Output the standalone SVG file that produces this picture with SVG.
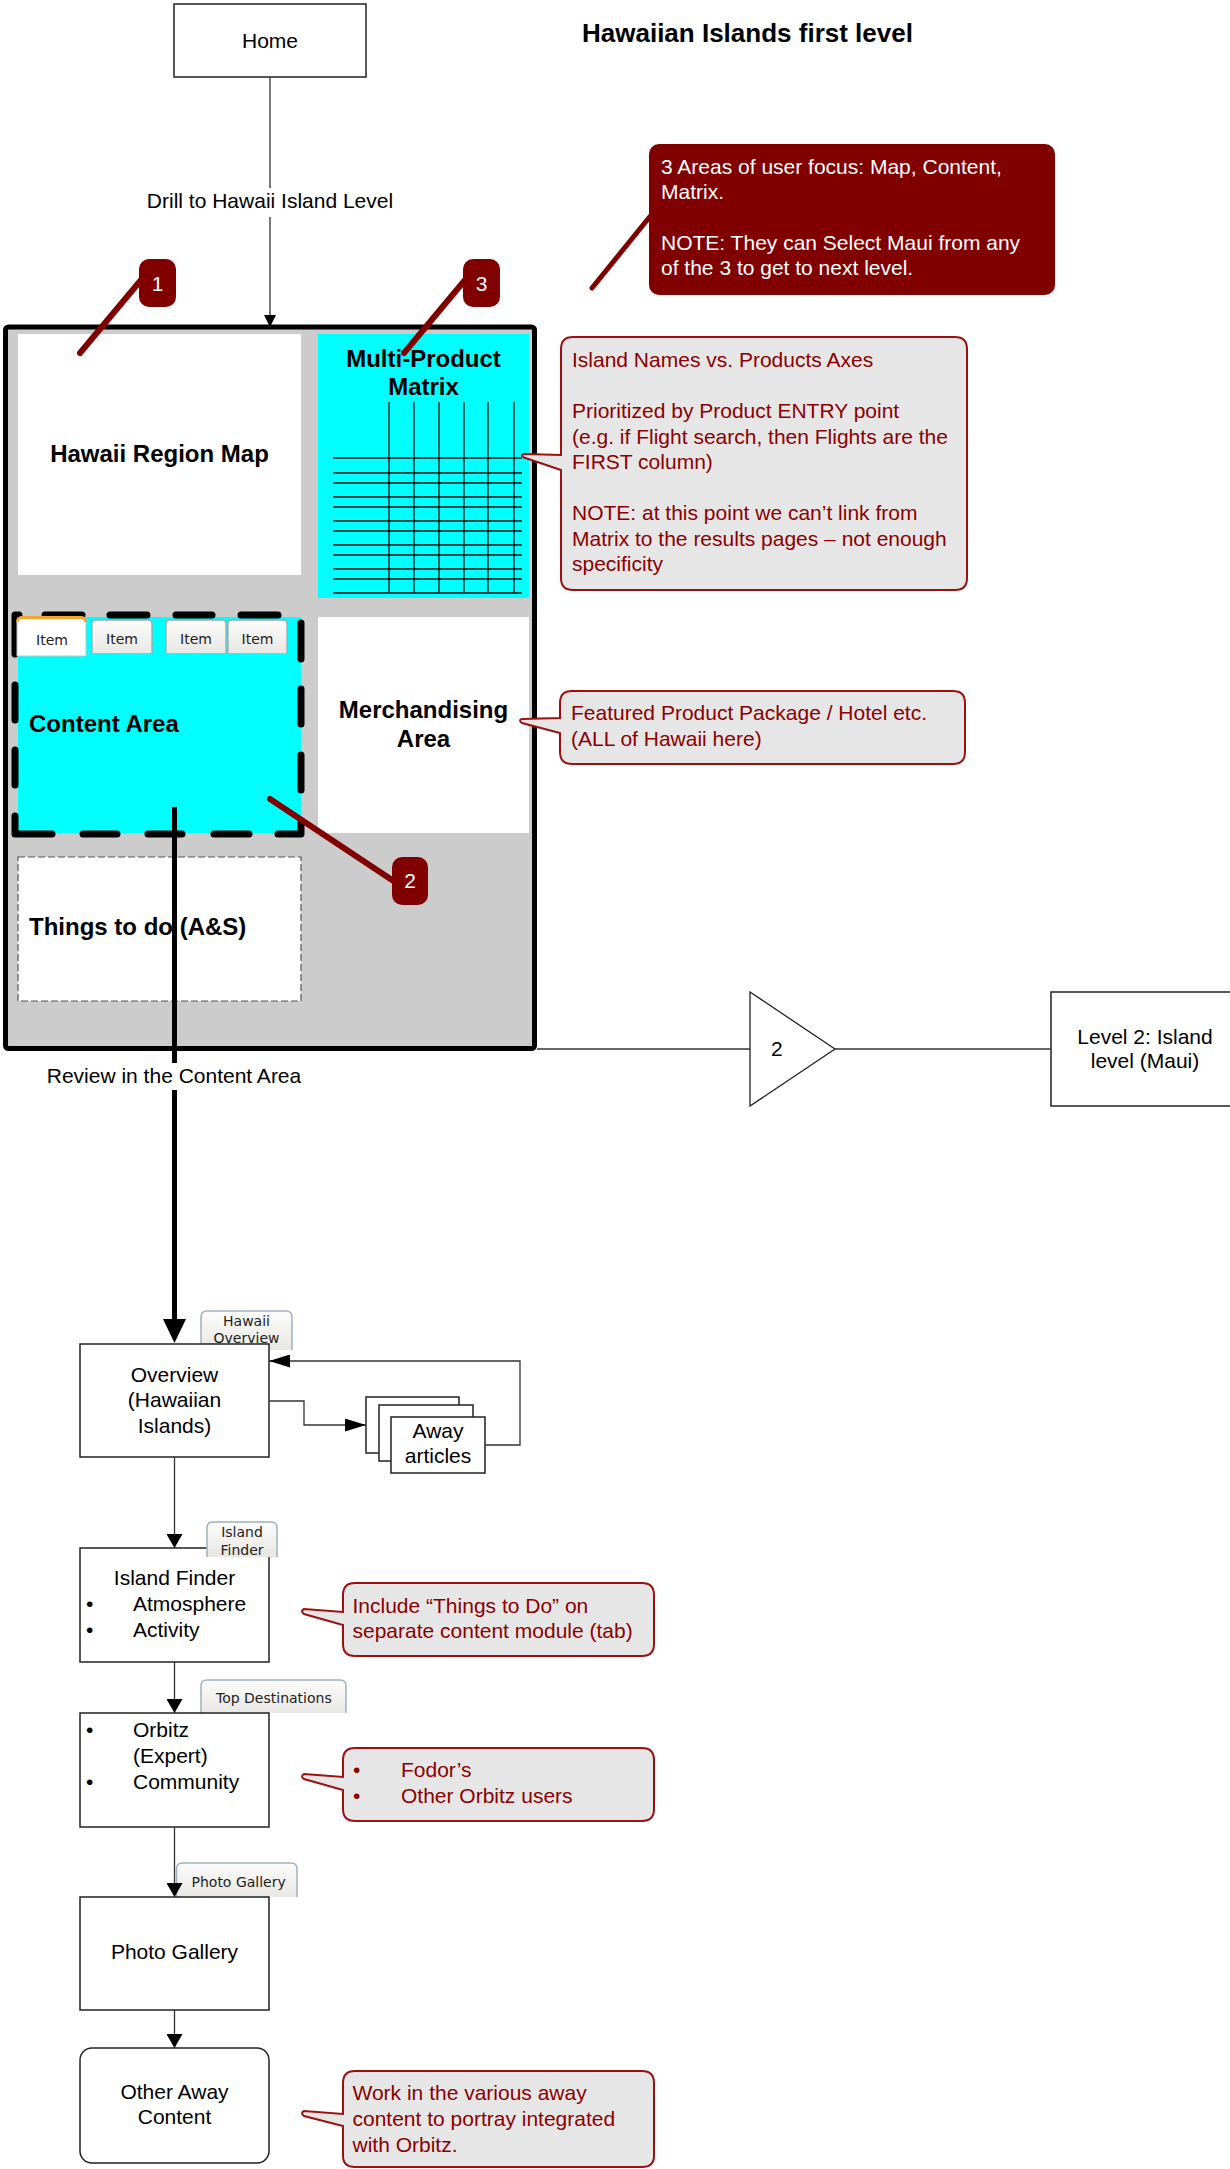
<svg xmlns="http://www.w3.org/2000/svg" width="1230" height="2169" viewBox="0 0 1230 2169">
<defs>
<style>
text{font-family:"Liberation Sans",Arial,sans-serif;}
.t{font-size:21px;fill:#000;}
.c{text-anchor:middle;}
.b{font-size:24px;font-weight:bold;fill:#000;}
.note{font-size:21px;fill:#8b0000;}
.wn{font-size:21px;fill:#fff;}
.box{fill:#fff;stroke:#222;stroke-width:1.5;}
.conn{fill:none;stroke:#333;stroke-width:1.3;}
.call{fill:#e6e6e6;stroke:#9b1111;stroke-width:2;}
.mk{fill:#800000;}
.ptr{stroke:#800000;stroke-width:6;stroke-linecap:round;fill:none;}
.tab{fill:url(#tg);stroke:#9fb1c4;stroke-width:1.5;}
.itab{fill:url(#tg);stroke:#a0a8b0;stroke-width:1.3;}
.tabt{font-family:"DejaVu Sans",sans-serif;font-size:14px;fill:#222;}
.gh{stroke:#1e4a4a;stroke-width:2;}
.gv{stroke:#000;stroke-width:1.2;}
</style>
<linearGradient id="tg" x1="0" y1="0" x2="0" y2="1"><stop offset="0" stop-color="#fcfcfb"/><stop offset="1" stop-color="#e8e7e3"/></linearGradient>
<marker id="av" markerUnits="userSpaceOnUse" markerWidth="14" markerHeight="16" viewBox="0 0 14 16" refX="14" refY="8" orient="auto"><path d="M0,0 L14,8 L0,16 Z" fill="#000"/></marker>
<marker id="ah" markerUnits="userSpaceOnUse" markerWidth="21" markerHeight="13" viewBox="0 0 21 13" refX="21" refY="6.5" orient="auto"><path d="M0,0 L21,6.5 L0,13 Z" fill="#000"/></marker>
<marker id="as" markerUnits="userSpaceOnUse" markerWidth="12" markerHeight="12" viewBox="0 0 12 12" refX="12" refY="6" orient="auto"><path d="M0,0 L12,6 L0,12 Z" fill="#000"/></marker>
</defs>
<rect width="1230" height="2169" fill="#fff"/>

<text x="582" y="42" style="font-size:26px;font-weight:bold;fill:#000">Hawaiian Islands first level</text>

<g id="home"><rect class="box" x="174" y="4" width="192" height="73"/><text class="t c" x="270" y="48">Home</text></g>

<g id="focus-note">
<line class="ptr" x1="592" y1="288" x2="652" y2="214" style="stroke-width:5"/>
<rect x="649" y="144" width="406" height="151" rx="10" fill="#800000"/>
<text class="wn" x="661" y="174">3 Areas of user focus: Map, Content,</text>
<text class="wn" x="661" y="199">Matrix.</text>
<text class="wn" x="661" y="250">NOTE: They can Select Maui from any</text>
<text class="wn" x="661" y="275">of the 3 to get to next level.</text>
</g>

<g id="page-frame">
<rect x="5.5" y="327" width="529" height="721.5" rx="3" fill="#cccccc" stroke="#000" stroke-width="5"/>
</g>

<g id="region-map"><rect x="18" y="334" width="283" height="241" fill="#fff"/><text class="b c" x="159.5" y="462">Hawaii Region Map</text></g>

<g id="matrix">
<rect x="318" y="334" width="211" height="264" fill="#00ffff"/>
<text class="b c" x="423.5" y="367">Multi-Product</text>
<text class="b c" x="423.5" y="395">Matrix</text>
<g>
<line class="gh" x1="333" y1="458" x2="522" y2="458"/>
<line class="gh" x1="333" y1="473" x2="522" y2="473"/>
<line class="gh" x1="333" y1="483" x2="522" y2="483"/>
<line class="gh" x1="333" y1="497" x2="522" y2="497"/>
<line class="gh" x1="333" y1="507" x2="522" y2="507"/>
<line class="gh" x1="333" y1="521" x2="522" y2="521"/>
<line class="gh" x1="333" y1="531" x2="522" y2="531"/>
<line class="gh" x1="333" y1="545" x2="522" y2="545"/>
<line class="gh" x1="333" y1="555" x2="522" y2="555"/>
<line class="gh" x1="333" y1="569" x2="522" y2="569"/>
<line class="gh" x1="333" y1="579" x2="522" y2="579"/>
<line class="gh" x1="333" y1="593" x2="522" y2="593"/>
<line class="gv" x1="389" y1="402" x2="389" y2="593"/>
<line class="gv" x1="414" y1="402" x2="414" y2="593"/>
<line class="gv" x1="439" y1="402" x2="439" y2="593"/>
<line class="gv" x1="464" y1="402" x2="464" y2="593"/>
<line class="gv" x1="488" y1="402" x2="488" y2="593"/>
<line class="gv" x1="514" y1="402" x2="514" y2="593"/>
</g>
</g>

<g id="content-area">
<rect x="18" y="617" width="283" height="216" fill="#00ffff"/>
<path d="M45,615 H82 M110,615 H147 M176,615 H212 M241,615 H278 M301,623 V659 M301,689 V724 M301,755 V790 M301,823 V834 H278 M249,834 H214 M182,834 H148 M117,834 H83 M52,834 H15 V816 M15,785 V750 M15,720 V685 M15,654 V615 H19" fill="none" stroke="#000" stroke-width="7" stroke-linecap="round" stroke-linejoin="round"/>
<path d="M17,656 V621 Q17,617 21,617 H82 Q86,617 86,621 V656 Z" fill="#fff" stroke="#c4c4c4" stroke-width="1"/>
<path d="M17.5,622 Q17.5,617.5 22,617.5 H81 Q85.5,617.5 85.5,622" fill="none" stroke="#f0a832" stroke-width="3"/>
<path class="itab" d="M92,653 V624 Q92,620 96,620 H148 Q152,620 152,624 V653"/>
<path class="itab" d="M166,653 V624 Q166,620 170,620 H222 Q226,620 226,624 V653"/>
<path class="itab" d="M228,653 V624 Q228,620 232,620 H283 Q287,620 287,624 V653"/>
<text class="tabt c" x="52" y="645">Item</text>
<text class="tabt c" x="122" y="644">Item</text>
<text class="tabt c" x="196" y="644">Item</text>
<text class="tabt c" x="257.5" y="644">Item</text>
<text class="b" x="29" y="732">Content Area</text>
</g>

<g id="merchandising"><rect x="318" y="617" width="211" height="216" fill="#fff"/><text class="b c" x="423.5" y="718">Merchandising</text><text class="b c" x="423.5" y="747">Area</text></g>

<g id="things-to-do"><rect x="18" y="857" width="283" height="144" fill="#fff" stroke="#555" stroke-width="1.2" stroke-dasharray="7 3"/><text class="b" x="29" y="935">Things to do (A&amp;S)</text></g>

<g id="matrix-note">
<path class="call" d="M573,337 H955 Q967,337 967,349 V578 Q967,590 955,590 H573 Q561,590 561,578 V470 L524,457.5 Q520,455 524,454 L561,455 V349 Q561,337 573,337 Z"/>
<text class="note" x="572" y="367">Island Names vs. Products Axes</text>
<text class="note" x="572" y="418">Prioritized by Product ENTRY point</text>
<text class="note" x="572" y="443.5">(e.g. if Flight search, then Flights are the</text>
<text class="note" x="572" y="469">FIRST column)</text>
<text class="note" x="572" y="520">NOTE: at this point we can’t link from</text>
<text class="note" x="572" y="545.5">Matrix to the results pages – not enough</text>
<text class="note" x="572" y="571">specificity</text>
</g>

<g id="merch-note">
<path class="call" d="M572,691 H953 Q965,691 965,703 V752 Q965,764 953,764 H572 Q560,764 560,752 V733 L522,723 Q518,720 522,719 L560,718 V703 Q560,691 572,691 Z"/>
<text class="note" x="571" y="720">Featured Product Package / Hotel etc.</text>
<text class="note" x="571" y="746">(ALL of Hawaii here)</text>
</g>

<g id="marker-1"><line class="ptr" x1="141" y1="280" x2="80" y2="353"/><rect class="mk" x="139" y="259" width="37" height="48" rx="10"/><text class="wn c" x="157.5" y="291">1</text></g>
<g id="marker-3"><line class="ptr" x1="465" y1="280" x2="404" y2="353"/><rect class="mk" x="463" y="259" width="37" height="48" rx="10"/><text class="wn c" x="481.5" y="291">3</text></g>
<g id="marker-2"><line class="ptr" x1="395" y1="882" x2="270" y2="799"/><rect class="mk" x="392" y="857" width="36" height="48" rx="10"/><text class="wn c" x="410" y="888">2</text></g>

<g id="offpage-2"><polygon points="750,992 835,1049 750,1106" fill="#fff" stroke="#222" stroke-width="1.3"/><text class="t" x="771" y="1056">2</text></g>
<g id="level2"><rect class="box" x="1051" y="992" width="190" height="114"/><text class="t c" x="1145" y="1044">Level 2: Island</text><text class="t c" x="1145" y="1068">level (Maui)</text></g>

<g id="overview">
<path class="tab" d="M201,1350 V1317 Q201,1311 207,1311 H286 Q292,1311 292,1317 V1350"/>
<text class="tabt c" x="246.5" y="1326">Hawaii</text>
<text class="tabt c" x="246.5" y="1343">Overview</text>
<rect class="box" x="80" y="1344" width="189" height="113"/>
<text class="t c" x="174.5" y="1382">Overview</text>
<text class="t c" x="174.5" y="1407">(Hawaiian</text>
<text class="t c" x="174.5" y="1433">Islands)</text>
</g>

<g id="away-articles">
<rect class="box" x="366" y="1397" width="93" height="56"/>
<rect class="box" x="379" y="1405" width="94" height="56"/>
<rect class="box" x="391" y="1417" width="94" height="56"/>
<text class="t c" x="438" y="1438">Away</text>
<text class="t c" x="438" y="1463">articles</text>
</g>

<g id="island-finder">
<rect class="box" x="80" y="1548" width="189" height="114"/>
<path class="tab" d="M207,1557 V1528 Q207,1522 213,1522 H271 Q277,1522 277,1528 V1557"/>
<rect x="208" y="1549" width="68" height="8" fill="#e9e8e4"/>
<text class="tabt c" x="242" y="1537">Island</text>
<text class="tabt c" x="242" y="1555">Finder</text>
<text class="t c" x="174.5" y="1585">Island Finder</text>
<text class="t" x="86" y="1611">•</text><text class="t" x="133" y="1611">Atmosphere</text>
<text class="t" x="86" y="1637">•</text><text class="t" x="133" y="1637">Activity</text>
</g>

<g id="tab-note">
<path class="call" d="M355,1583 H642 Q654,1583 654,1595 V1644 Q654,1656 642,1656 H355 Q343,1656 343,1644 V1625 L304,1614 Q300,1611 304,1609 L343,1612 V1595 Q343,1583 355,1583 Z"/>
<text class="note" x="352.5" y="1613">Include “Things to Do” on</text>
<text class="note" x="352.5" y="1638">separate content module (tab)</text>
</g>

<g id="top-destinations">
<path class="tab" d="M201,1713 V1686 Q201,1680 207,1680 H340 Q346,1680 346,1686 V1713"/>
<text class="tabt" x="216" y="1703">Top Destinations</text>
<rect class="box" x="80" y="1713" width="189" height="114"/>
<text class="t" x="86" y="1737">•</text><text class="t" x="133" y="1737">Orbitz</text>
<text class="t" x="133" y="1763">(Expert)</text>
<text class="t" x="86" y="1789">•</text><text class="t" x="133" y="1789">Community</text>
</g>

<g id="fodors-note">
<path class="call" d="M355,1748 H642 Q654,1748 654,1760 V1809 Q654,1821 642,1821 H355 Q343,1821 343,1809 V1790 L304,1779 Q300,1776.5 304,1774 L343,1777 V1760 Q343,1748 355,1748 Z"/>
<text class="note" x="353" y="1777">•</text><text class="note" x="401" y="1777">Fodor’s</text>
<text class="note" x="353" y="1803">•</text><text class="note" x="401" y="1803">Other Orbitz users</text>
</g>

<g id="photo-gallery">
<path class="tab" d="M176.5,1897 V1869 Q176.5,1863 182.5,1863 H291 Q297,1863 297,1869 V1897"/>
<text class="tabt" x="191.5" y="1887">Photo Gallery</text>
<rect class="box" x="80" y="1897" width="189" height="113"/>
<text class="t c" x="174.5" y="1959">Photo Gallery</text>
</g>

<g id="other-away">
<rect class="box" x="80" y="2048" width="189" height="115" rx="12"/>
<text class="t c" x="174.5" y="2099">Other Away</text>
<text class="t c" x="174.5" y="2124">Content</text>
</g>

<g id="away-note">
<path class="call" d="M355,2071 H642 Q654,2071 654,2083 V2156 Q654,2167 642,2167 H355 Q343,2167 343,2156 V2126 L304,2116 Q300,2113 304,2111 L343,2114 V2083 Q343,2071 355,2071 Z"/>
<text class="note" x="352.5" y="2100">Work in the various away</text>
<text class="note" x="352.5" y="2126">content to portray integrated</text>
<text class="note" x="352.5" y="2152">with Orbitz.</text>
</g>

<g id="connectors">
<line class="conn" x1="270" y1="77" x2="270" y2="188"/>
<line class="conn" x1="270" y1="217" x2="270" y2="327" marker-end="url(#as)"/>
<text class="t c" x="270" y="208">Drill to Hawaii Island Level</text>
<line class="conn" x1="537" y1="1049" x2="750" y2="1049"/>
<line class="conn" x1="835" y1="1049" x2="1051" y2="1049"/>
<line x1="174.5" y1="807" x2="174.5" y2="1063" stroke="#000" stroke-width="5"/>
<line x1="174.5" y1="1090" x2="174.5" y2="1321" stroke="#000" stroke-width="5"/>
<polygon points="163,1319 186,1319 174.5,1343" fill="#000"/>
<text class="t c" x="174" y="1083">Review in the Content Area</text>
<path class="conn" d="M269,1401 H304 V1425 H366" marker-end="url(#ah)"/>
<path class="conn" d="M485,1445 H520 V1361 H269" marker-end="url(#ah)"/>
<line class="conn" x1="174.5" y1="1457" x2="174.5" y2="1548" marker-end="url(#av)"/>
<line class="conn" x1="174.5" y1="1662" x2="174.5" y2="1713" marker-end="url(#av)"/>
<line class="conn" x1="174.5" y1="1827" x2="174.5" y2="1897" marker-end="url(#av)"/>
<line class="conn" x1="174.5" y1="2010" x2="174.5" y2="2048" marker-end="url(#av)"/>
</g>
</svg>
